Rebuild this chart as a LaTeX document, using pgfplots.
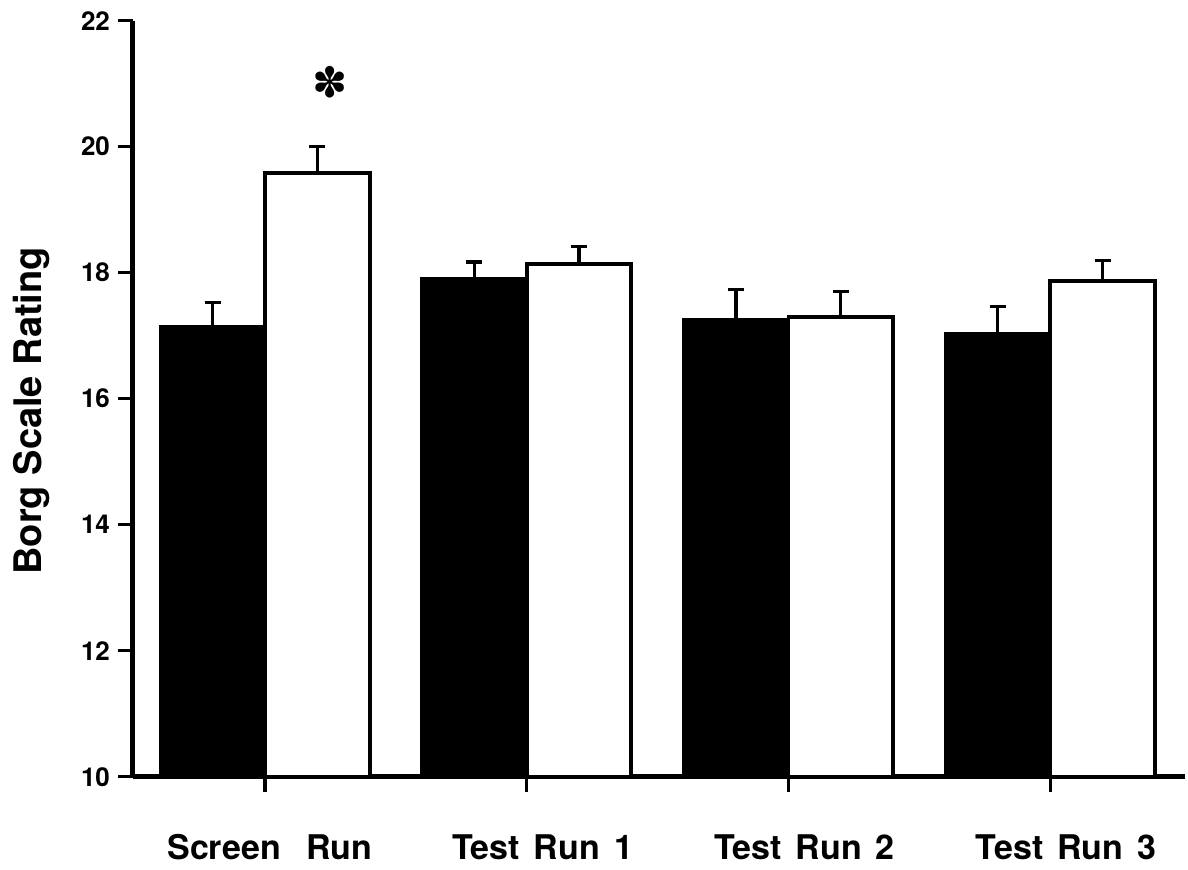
\documentclass[border=0pt]{standalone}
\usepackage{fontspec}
\setmainfont{TeX Gyre Heros}
\newfontfamily\symfont{DejaVu Sans}
\usepackage{pgfplots}
\pgfplotsset{compat=1.18}

\begin{document}
\begin{tikzpicture}
\begin{axis}[
  scale only axis,
  width=526pt, height=378pt,
  xmin=-0.504, xmax=3.515,
  ymin=10, ymax=22,
  ytick={10,12,...,22},
  xtick={0,1,2,3},
  xticklabels={\hspace{-11pt}Screen\hspace{12.7pt}Run, Test\hspace{7pt}Run\hspace{7pt}1, Test\hspace{7pt}Run\hspace{7pt}2, Test\hspace{7pt}Run\hspace{7pt}3},
  axis x line*=bottom, axis y line*=left,
  axis line style={line width=2.5pt, -},
  tick align=outside,
  major tick length=7.5pt,
  tick style={line width=1.6pt, black},
  /pgf/number format/assume math mode=true,
  yticklabel style={font=\bfseries\fontsize{13}{15}\selectfont, xshift=-0.5pt},
  xticklabel style={font=\bfseries\fontsize{17}{19}\selectfont, anchor=base, yshift=-34pt, xshift=8pt},
  ylabel={\bfseries\fontsize{19}{21}\selectfont Borg Scale Rating},
  every axis y label/.style={at={(axis description cs:-0.0865,0.484)}, rotate=90, anchor=base},
  clip=false,
]
% control group (filled bars), upper SEM
\addplot[ybar, bar width=0.4, bar shift=0, fill=black, draw=black, line width=1.6pt,
  error bars/.cd, y dir=plus, y explicit,
  error bar style={line width=1.6pt},
  error mark options={rotate=90, mark size=4pt, line width=1.6pt}]
  coordinates {
    (-0.2,17.15) +- (0,0.38)
    (0.8,17.90) +- (0,0.27)
    (1.8,17.25) +- (0,0.48)
    (2.8,17.03) +- (0,0.43)
  };
% comparison group (open bars), upper SEM
\addplot[ybar, bar width=0.4, bar shift=0, fill=white, draw=black, line width=1.9pt,
  error bars/.cd, y dir=plus, y explicit,
  error bar style={line width=1.6pt},
  error mark options={rotate=90, mark size=4pt, line width=1.6pt}]
  coordinates {
    (0.2,19.58) +- (0,0.42)
    (1.2,18.14) +- (0,0.27)
    (2.2,17.30) +- (0,0.40)
    (3.2,17.87) +- (0,0.33)
  };
\node[font=\symfont\fontsize{21}{23}\selectfont] at (axis cs:0.25,21.03) {✽};
\end{axis}
\pgfresetboundingbox
\path ([xshift=-66.5pt,yshift=-46.15pt]current axis.south west)
  rectangle ([xshift=1.5pt,yshift=10.35pt]current axis.north east);
\end{tikzpicture}
\end{document}
